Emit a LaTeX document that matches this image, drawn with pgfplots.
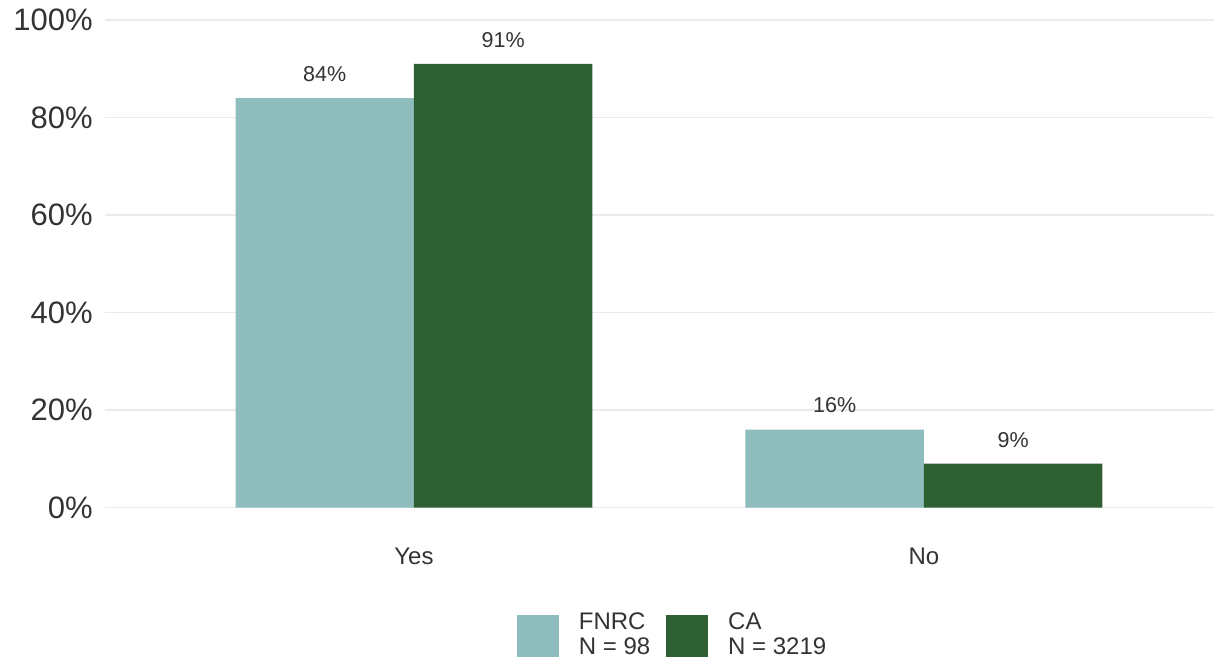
\documentclass[border=0pt]{standalone}
\usepackage{pgfplots}
\pgfplotsset{compat=1.18}
\usepackage{fontspec}
\setmainfont{Liberation Sans}

\definecolor{fnrc}{HTML}{8FBDBD}
\definecolor{ca}{HTML}{2F6033}
\definecolor{gridc}{HTML}{EBEBEB}
\definecolor{txt}{HTML}{333333}

\begin{document}
\begin{tikzpicture}
\useasboundingbox (0,0) rectangle (607pt,332pt);
\begin{axis}[
    at={(52.5pt,66pt)}, anchor=south west,
    scale only axis,
    width=554.5pt, height=266pt,
    xmin=-0.606, xmax=1.569,
    ymin=-5, ymax=104.1,
    axis line style={draw=none},
    major tick length=0pt,
    /pgf/number format/assume math mode=true,
    xtick={0,1}, xticklabels={Yes,No},
    ytick={0,20,40,60,80,100},
    yticklabels={0\%,20\%,40\%,60\%,80\%,100\%},
    ymajorgrids,
    grid style={gridc, line width=0.6pt},
    xticklabel style={font=\fontsize{12}{14}\selectfont, text=txt, inner sep=0pt, yshift=-8pt},
    yticklabel style={font=\fontsize{15.5}{18}\selectfont, text=txt, anchor=east, inner sep=0pt, xshift=-6pt},
    ybar, bar width=0.35, bar shift=0pt,
    nodes near coords={\pgfmathprintnumber[fixed,precision=0]{\pgfplotspointmeta}\%},
    every node near coord/.append style={font=\fontsize{10.75}{12}\selectfont, text=txt, anchor=south, inner sep=0pt, yshift=8pt},
    legend columns=2,
    legend style={draw=none, fill=none, at={(0.5127,-0.1896)}, anchor=center,
        font=\fontsize{12}{12.5}\selectfont, text=txt,
        /tikz/every odd column/.append style={column sep=8pt},
        /tikz/every even column/.append style={column sep=6pt}},
    legend cell align=left,
    legend image code/.code={\fill[#1] (0pt,-14pt) rectangle (21pt,7pt);},
]
\addplot[fill=fnrc, draw=none] coordinates {(-0.175,84) (0.825,16)};
\addlegendentry{{\begin{tabular}{@{}l@{}}FNRC\\N = 98\end{tabular}}}
\addplot[fill=ca, draw=none] coordinates {(0.175,91) (1.175,9)};
\addlegendentry{{\begin{tabular}{@{}l@{}}CA\\N = 3219\end{tabular}}}
\end{axis}
\end{tikzpicture}
\end{document}
